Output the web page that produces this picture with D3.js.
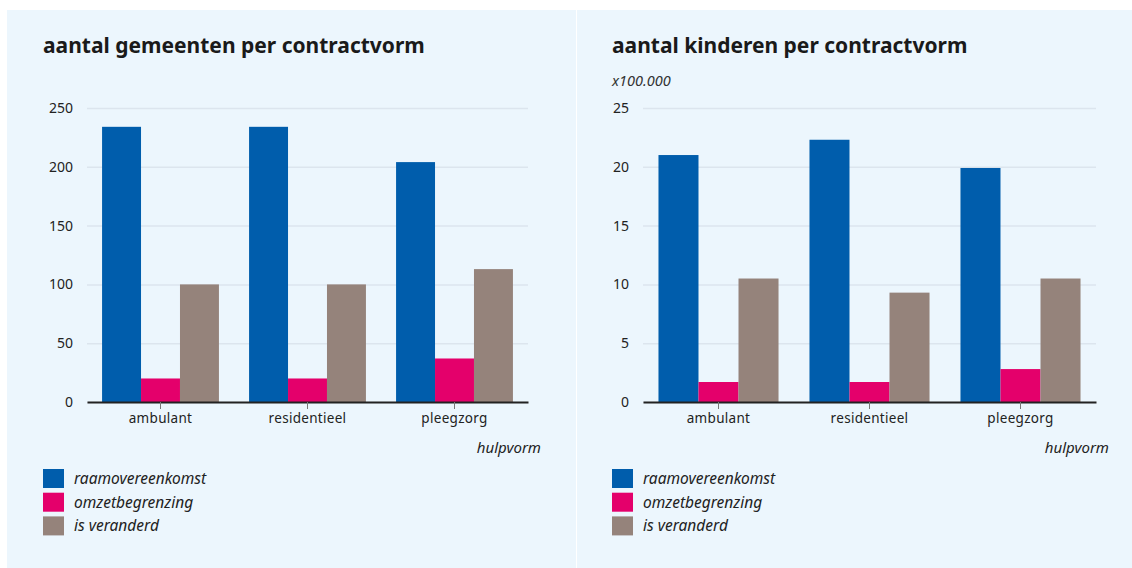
<!DOCTYPE html>
<html>
<head>
<meta charset="utf-8">
<script src="https://cdn.jsdelivr.net/npm/d3@7"></script>
<style>
  html, body { margin: 0; padding: 0; background: #ffffff; }
  svg { display: block; font-family: 'Noto Sans', sans-serif; }
</style>
</head>
<body>
<script>
'use strict';

// categories and series
const categories = ['ambulant', 'residentieel', 'pleegzorg'];
const seriesNames = ['raamovereenkomst', 'omzetbegrenzing', 'is veranderd'];
const seriesColors = ['#005dac', '#e4006b', '#95837b'];

// left chart: aantal gemeenten
const gemeentenRaam = [234, 234, 204];
const gemeentenOmzet = [20, 20, 37];
const gemeentenVeranderd = [100, 100, 113];
const gemeentenTicks = [0, 50, 100, 150, 200, 250];

// right chart: aantal kinderen (x100.000)
const kinderenRaam = [21.0, 22.3, 19.9];
const kinderenOmzet = [1.7, 1.7, 2.8];
const kinderenVeranderd = [10.5, 9.3, 10.5];
const kinderenTicks = [0, 5, 10, 15, 20, 25];

const W = 1132, H = 568;

let svg = d3.select('body').append('svg').attr('width', W).attr('height', H);

// panel backgrounds
svg.append('rect').attr('x', 7).attr('y', 10).attr('width', W - 7).attr('height', H - 10).attr('fill', '#ecf6fd');
svg.append('line').attr('x1', 576.5).attr('x2', 576.5).attr('y1', 10).attr('y2', H).attr('stroke', '#ffffff').attr('stroke-width', 1);

function drawPanel(opt) {
	let g = svg.append('g');

	let yScale = d3.scaleLinear().domain([0, d3.max(opt.ticks)]).range([402, 108]);
	let xScale = d3.scaleBand().domain(categories).range([opt.left, opt.right]).paddingInner(0.205).paddingOuter(0.1025);
	let inner = d3.scaleBand().domain(seriesNames).range([0, xScale.bandwidth()]);

	g.append('text')
		.attr('x', opt.titleX).attr('y', 53)
		.attr('font-size', 21).attr('font-weight', 'bold').attr('fill', '#1a1a1a')
		.text(opt.title);

	if (opt.unit) {
		g.append('text')
			.attr('x', opt.titleX).attr('y', 86)
			.attr('font-size', 14.5).attr('font-style', 'italic').attr('fill', '#333')
			.text(opt.unit);
	}

	// gridlines + y labels
	let yAxis = d3.axisLeft(yScale).tickValues(opt.ticks).tickSize(-(opt.right - opt.left)).tickPadding(14);
	let ya = g.append('g').attr('transform', 'translate(' + opt.left + ',0)').call(yAxis);
	ya.select('.domain').remove();
	ya.selectAll('line').attr('stroke', '#dce5ee').attr('stroke-width', 1.5);
	ya.selectAll('text').attr('font-size', 14).attr('font-family', "'Noto Sans', sans-serif").attr('fill', '#222');

	// bars
	let series = [opt.s1, opt.s2, opt.s3];
	series.forEach((vals, si) => {
		g.selectAll('.bar' + si)
			.data(vals)
			.enter()
			.append('rect')
			.attr('x', (d, i) => xScale(categories[i]) + inner(seriesNames[si]))
			.attr('y', (d) => yScale(d))
			.attr('width', inner.bandwidth())
			.attr('height', (d) => yScale(0) - yScale(d))
			.attr('fill', seriesColors[si]);
	});

	// x axis
	let xAxis = d3.axisBottom(xScale).tickSize(7).tickSizeOuter(0).tickPadding(4);
	let xa = g.append('g').attr('transform', 'translate(0,' + yScale(0) + ')').call(xAxis);
	xa.select('.domain').attr('stroke', '#222').attr('stroke-width', 2);
	xa.selectAll('.tick line').attr('stroke', '#777');
	xa.selectAll('text').attr('font-size', 13.5).attr('font-family', "'Noto Sans', sans-serif").attr('fill', '#222').attr('letter-spacing', 0.3);

	g.append('text')
		.attr('x', opt.right + 13).attr('y', 453)
		.attr('text-anchor', 'end').attr('font-size', 15).attr('font-style', 'italic').attr('fill', '#222')
		.text('hulpvorm');

	// legend
	let legend = g.append('g').attr('transform', 'translate(' + opt.titleX + ',469)');
	seriesNames.forEach((name, i) => {
		legend.append('rect').attr('x', 0).attr('y', i * 23.7).attr('width', 21).attr('height', 19).attr('fill', seriesColors[i]);
		legend.append('text').attr('x', 31).attr('y', i * 23.7 + 15).attr('font-size', 15.5).attr('font-style', 'italic').attr('fill', '#222').text(name);
	});
}

drawPanel({
	title: 'aantal gemeenten per contractvorm',
	titleX: 43, left: 87, right: 528,
	ticks: gemeentenTicks,
	s1: gemeentenRaam, s2: gemeentenOmzet, s3: gemeentenVeranderd
});

drawPanel({
	title: 'aantal kinderen per contractvorm',
	unit: 'x100.000',
	titleX: 612, left: 643, right: 1096,
	ticks: kinderenTicks,
	s1: kinderenRaam, s2: kinderenOmzet, s3: kinderenVeranderd
});
</script>
</body>
</html>
